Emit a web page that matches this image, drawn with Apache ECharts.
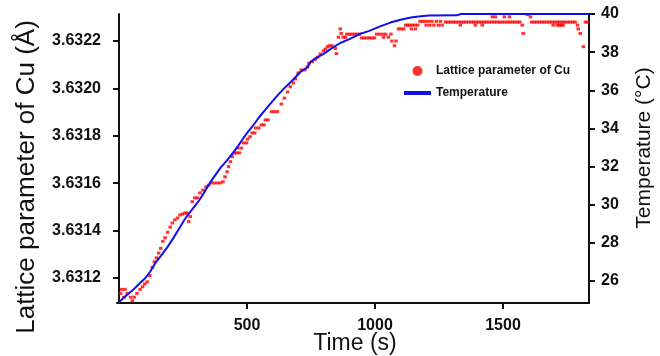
<!DOCTYPE html>
<html>
<head>
<meta charset="utf-8">
<script src="https://cdn.jsdelivr.net/npm/echarts@6/dist/echarts.min.js"></script>
<style>
  html, body { margin: 0; padding: 0; background: #fff; }
  #chart { width: 660px; height: 356px; }
</style>
</head>
<body>
<div id="chart"></div>
<script>
// lattice parameter of Cu [time (s), a (Å)]
const latticePoints = [
  [6, 3.631135], [10, 3.631152], [19, 3.631119], [23, 3.631152], [32, 3.631135], [45, 3.631119],
  [52, 3.631104], [59, 3.631119], [70, 3.631135], [82, 3.631152], [92, 3.631163], [100, 3.631175],
  [110, 3.631184], [120, 3.631210], [130, 3.631245], [138, 3.631268], [146, 3.631285], [155, 3.631305],
  [163, 3.631325], [171, 3.631355], [180, 3.631370], [190, 3.631393], [200, 3.631415], [208, 3.631432],
  [218, 3.631445], [228, 3.631453], [238, 3.631466], [248, 3.631470], [258, 3.631474], [266, 3.631474],
  [272, 3.631438], [278, 3.631459], [286, 3.631522], [296, 3.631538], [306, 3.631538], [316, 3.631559],
  [328, 3.631571], [340, 3.631585], [350, 3.631592], [360, 3.631601], [372, 3.631601], [384, 3.631601],
  [396, 3.631601], [406, 3.631606], [414, 3.631627], [422, 3.631648], [428, 3.631670], [435, 3.631691],
  [442, 3.631712], [450, 3.631727], [460, 3.631728], [470, 3.631728], [464, 3.631748], [478, 3.631748],
  [486, 3.631770], [498, 3.631770], [502, 3.631786], [512, 3.631796], [520, 3.631812], [530, 3.631812],
  [534, 3.631833], [546, 3.631833], [556, 3.631846], [566, 3.631846], [572, 3.631867], [582, 3.631867],
  [596, 3.631902], [606, 3.631902], [618, 3.631902], [634, 3.631934], [646, 3.631959], [658, 3.631985],
  [669, 3.632007], [681, 3.632023], [689, 3.632040], [700, 3.632065], [712, 3.632078], [726, 3.632078],
  [736, 3.632091], [742, 3.632106], [755, 3.632113], [767, 3.632123], [776, 3.632132], [786, 3.632145],
  [798, 3.632158], [806, 3.632166], [814, 3.632176], [822, 3.632180], [832, 3.632180], [845, 3.632169],
  [849, 3.632147], [857, 3.632216], [864, 3.632251], [868, 3.632232], [876, 3.632216], [884, 3.632216],
  [890, 3.632229], [900, 3.632229], [910, 3.632229], [920, 3.632229], [930, 3.632229], [940, 3.632229],
  [948, 3.632213], [958, 3.632213], [968, 3.632213], [978, 3.632213], [988, 3.632213], [998, 3.632213],
  [1006, 3.632229], [1018, 3.632229], [1030, 3.632229], [1033, 3.632216], [1042, 3.632229], [1052, 3.632216],
  [1062, 3.632229], [1066, 3.632200], [1076, 3.632180], [1082, 3.632200], [1092, 3.632251], [1102, 3.632251],
  [1112, 3.632251], [1120, 3.632267], [1128, 3.632267], [1136, 3.632267], [1142, 3.632251], [1146, 3.632267],
  [1156, 3.632267], [1158, 3.632251], [1166, 3.632267], [1176, 3.632283], [1186, 3.632283], [1196, 3.632283],
  [1200, 3.632267], [1208, 3.632283], [1214, 3.632267], [1222, 3.632283], [1230, 3.632267], [1240, 3.632283],
  [1248, 3.632267], [1256, 3.632283], [1262, 3.632267],
  [1276, 3.632280], [1286, 3.632280], [1296, 3.632280], [1306, 3.632280], [1316, 3.632280], [1326, 3.632280],
  [1336, 3.632280], [1346, 3.632280], [1356, 3.632280], [1366, 3.632280], [1376, 3.632280], [1386, 3.632280],
  [1396, 3.632280], [1406, 3.632280], [1416, 3.632280], [1426, 3.632280], [1436, 3.632280], [1446, 3.632280],
  [1456, 3.632280], [1466, 3.632280], [1476, 3.632280], [1486, 3.632280], [1496, 3.632280], [1506, 3.632280],
  [1516, 3.632280], [1526, 3.632280], [1536, 3.632280], [1546, 3.632280], [1556, 3.632280], [1566, 3.632280],
  [1333, 3.632267], [1392, 3.632267], [1419, 3.632267], [1458, 3.632302], [1470, 3.632302], [1505, 3.632302],
  [1525, 3.632302], [1575, 3.632267], [1579, 3.632232], [1595, 3.632312], [1607, 3.632302],
  [1612, 3.632280], [1622, 3.632280], [1632, 3.632280], [1642, 3.632280], [1652, 3.632280], [1662, 3.632280],
  [1672, 3.632280], [1682, 3.632280], [1692, 3.632280], [1702, 3.632280], [1712, 3.632280], [1722, 3.632280],
  [1732, 3.632280], [1742, 3.632280], [1752, 3.632280], [1762, 3.632280], [1772, 3.632280], [1782, 3.632280],
  [1696, 3.632267], [1712, 3.632267], [1720, 3.632267], [1728, 3.632267], [1735, 3.632267], [1791, 3.632267],
  [1794, 3.632251], [1802, 3.632232], [1814, 3.632176], [1822, 3.632280], [1830, 3.632280]
];

// temperature [time (s), T (°C)]
const temperaturePoints = [
  [0, 24.9], [25, 25.2], [52, 25.5], [78, 25.85], [103, 26.16], [122, 26.5], [142, 26.95], [165, 27.35],
  [189, 27.78], [212, 28.25], [236, 28.78], [255, 29.2], [275, 29.57], [295, 29.92], [314, 30.25],
  [335, 30.7], [357, 31.19], [376, 31.55], [396, 31.93], [420, 32.3], [447, 32.76], [466, 33.1],
  [486, 33.5], [505, 33.85], [525, 34.18], [548, 34.6], [571, 34.97], [595, 35.35], [620, 35.75],
  [645, 36.1], [669, 36.41], [690, 36.7], [708, 36.96], [736, 37.2], [747, 37.48], [770, 37.7],
  [798, 37.9], [830, 38.2], [864, 38.48], [900, 38.68], [940, 38.95], [975, 39.1], [1020, 39.35],
  [1060, 39.55], [1100, 39.7], [1140, 39.82], [1170, 39.87], [1210, 39.92], [1320, 39.93],
  [1335, 40.0], [1836, 40.0]
];

const timeTicks = [500, 1000, 1500];
const latticeTicks = [3.6312, 3.6314, 3.6316, 3.6318, 3.632, 3.6322];
const temperatureTicks = [26, 28, 30, 32, 34, 36, 38, 40];

const FONT = '"Liberation Sans", Arial, sans-serif';
const chart = echarts.init(document.getElementById('chart'));

const axisLine = { show: true, lineStyle: { color: '#111', width: 2 } };
const tickLabel = { color: '#111', fontFamily: FONT, fontWeight: 'bold', fontSize: 16 };

chart.setOption({
  animation: false,
  backgroundColor: '#fff',
  grid: { left: 117, right: 71, top: 14, bottom: 53, containLabel: false, outerBoundsMode: 'none' },
  legend: {
    orient: 'vertical',
    left: 399,
    top: 60,
    itemWidth: 27,
    itemHeight: 10,
    itemGap: 10,
    textStyle: { color: '#111', fontFamily: FONT, fontWeight: 'bold', fontSize: 12 },
    data: [
      { name: 'Lattice parameter of Cu', icon: 'circle' },
      { name: 'Temperature', icon: 'path://M0,0 L27,0 L27,4 L0,4 Z' }
    ]
  },
  xAxis: {
    type: 'value',
    min: -8,
    max: 1836,
    axisLine: axisLine,
    axisTick: { show: true, length: 6, lineStyle: { color: '#111', width: 2 }, customValues: timeTicks },
    axisLabel: Object.assign({ margin: 15, customValues: timeTicks, formatter: (v) => String(v) }, tickLabel),
    splitLine: { show: false }
  },
  yAxis: [
    {
      type: 'value',
      min: 3.6310945,
      max: 3.632314,
      axisLine: axisLine,
      axisTick: { show: true, length: 6, lineStyle: { color: '#111', width: 2 }, customValues: latticeTicks },
      axisLabel: Object.assign({ margin: 16, customValues: latticeTicks, formatter: (v) => v.toFixed(4) }, tickLabel),
      splitLine: { show: false }
    },
    {
      type: 'value',
      min: 24.85,
      max: 40,
      position: 'right',
      axisLine: axisLine,
      axisTick: { show: true, length: 6, lineStyle: { color: '#111', width: 2 }, customValues: temperatureTicks },
      axisLabel: Object.assign({ margin: 12, customValues: temperatureTicks }, tickLabel),
      splitLine: { show: false }
    }
  ],
  // axis titles placed by hand
  graphic: [
    {
      type: 'text', x: 27, y: 177, rotation: Math.PI / 2,
      style: { text: 'Lattice parameter of Cu (Å)', fill: '#111', font: '26px ' + FONT, align: 'center', verticalAlign: 'middle' }
    },
    {
      type: 'text', x: 644, y: 148, rotation: Math.PI / 2,
      style: { text: 'Temperature (°C)', fill: '#111', font: '21px ' + FONT, align: 'center', verticalAlign: 'middle' }
    },
    {
      type: 'text', x: 355, y: 344,
      style: { text: 'Time (s)', fill: '#111', font: '23px ' + FONT, align: 'center', verticalAlign: 'middle' }
    }
  ],
  series: [
    {
      name: 'Lattice parameter of Cu',
      type: 'scatter',
      yAxisIndex: 0,
      symbol: 'rect',
      symbolSize: [3.5, 3],
      itemStyle: { color: '#ff0000' },
      data: latticePoints
    },
    {
      name: 'Temperature',
      type: 'line',
      yAxisIndex: 1,
      symbol: 'none',
      lineStyle: { color: '#1010ee', width: 2 },
      itemStyle: { color: '#1010ee' },
      data: temperaturePoints
    }
  ]
});
</script>
</body>
</html>
